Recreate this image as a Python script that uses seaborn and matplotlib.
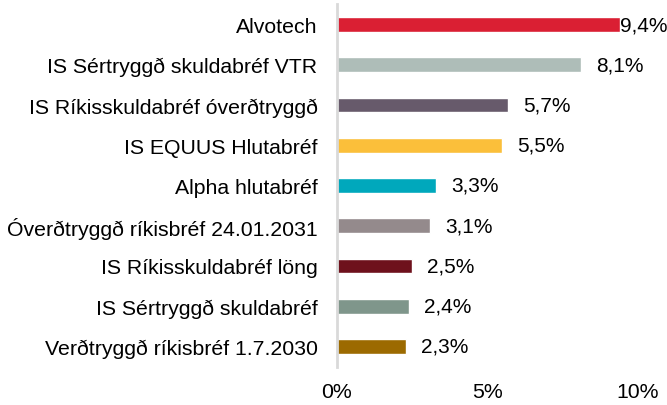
import pandas as pd
import numpy as np
import matplotlib.pyplot as plt
import seaborn as sns

names = ['Alvotech', 'IS Sértryggð skuldabréf VTR', 'IS Ríkisskuldabréf óverðtryggð',
         'IS EQUUS Hlutabréf', 'Alpha hlutabréf', 'Óverðtryggð ríkisbréf 24.01.2031',
         'IS Ríkisskuldabréf löng', 'IS Sértryggð skuldabréf', 'Verðtryggð ríkisbréf 1.7.2030']
values = [9.4, 8.1, 5.7, 5.5, 3.3, 3.1, 2.5, 2.4, 2.3]
colors = ['#DA1F33', '#AEBDB8', '#675A6B', '#FBBF3A', '#00A8BC',
          '#948A8C', '#6E111C', '#7F968B', '#9C6A00']
xticks = [0, 5, 10]
xticklabels = ['0%', '5%', '10%']

df = pd.DataFrame({'name': names, 'value': values})

sns.set_style('white')
plt.rcParams['font.family'] = ['Liberation Sans', 'DejaVu Sans']

fig = plt.figure(figsize=(6.67, 4.06), dpi=100)
ax = fig.add_axes([0.505, 0.0948, 0.4515, 0.8917])
sns.barplot(data=df, y='name', x='value', hue='name', palette=colors,
            legend=False, width=0.37, saturation=1, ax=ax)

ax.set_xlim(0, 10)
ax.set_ylim(8.5, -0.5)
ax.set_xticks(xticks)
ax.set_xticklabels(xticklabels)
ax.set_xlabel('')
ax.set_ylabel('')
ax.tick_params(axis='y', length=0, pad=14, labelsize=15.3, colors='#000000')
ax.tick_params(axis='x', length=0, pad=11, labelsize=15.3, colors='#000000')
for s in ['top', 'right', 'bottom']:
    ax.spines[s].set_visible(False)
ax.spines['left'].set_color('#d9d9d9')
ax.spines['left'].set_linewidth(2)

# data labels, pushed back inside the plot when they run past the edge
for i, v in enumerate(values):
    x = min(v + 0.5, 9.41)
    ax.text(x, i, f'{v:.1f}%'.replace('.', ','), va='center', ha='left',
            fontsize=15, color='#000000', clip_on=False)

fig.savefig('out.png', dpi=100)
